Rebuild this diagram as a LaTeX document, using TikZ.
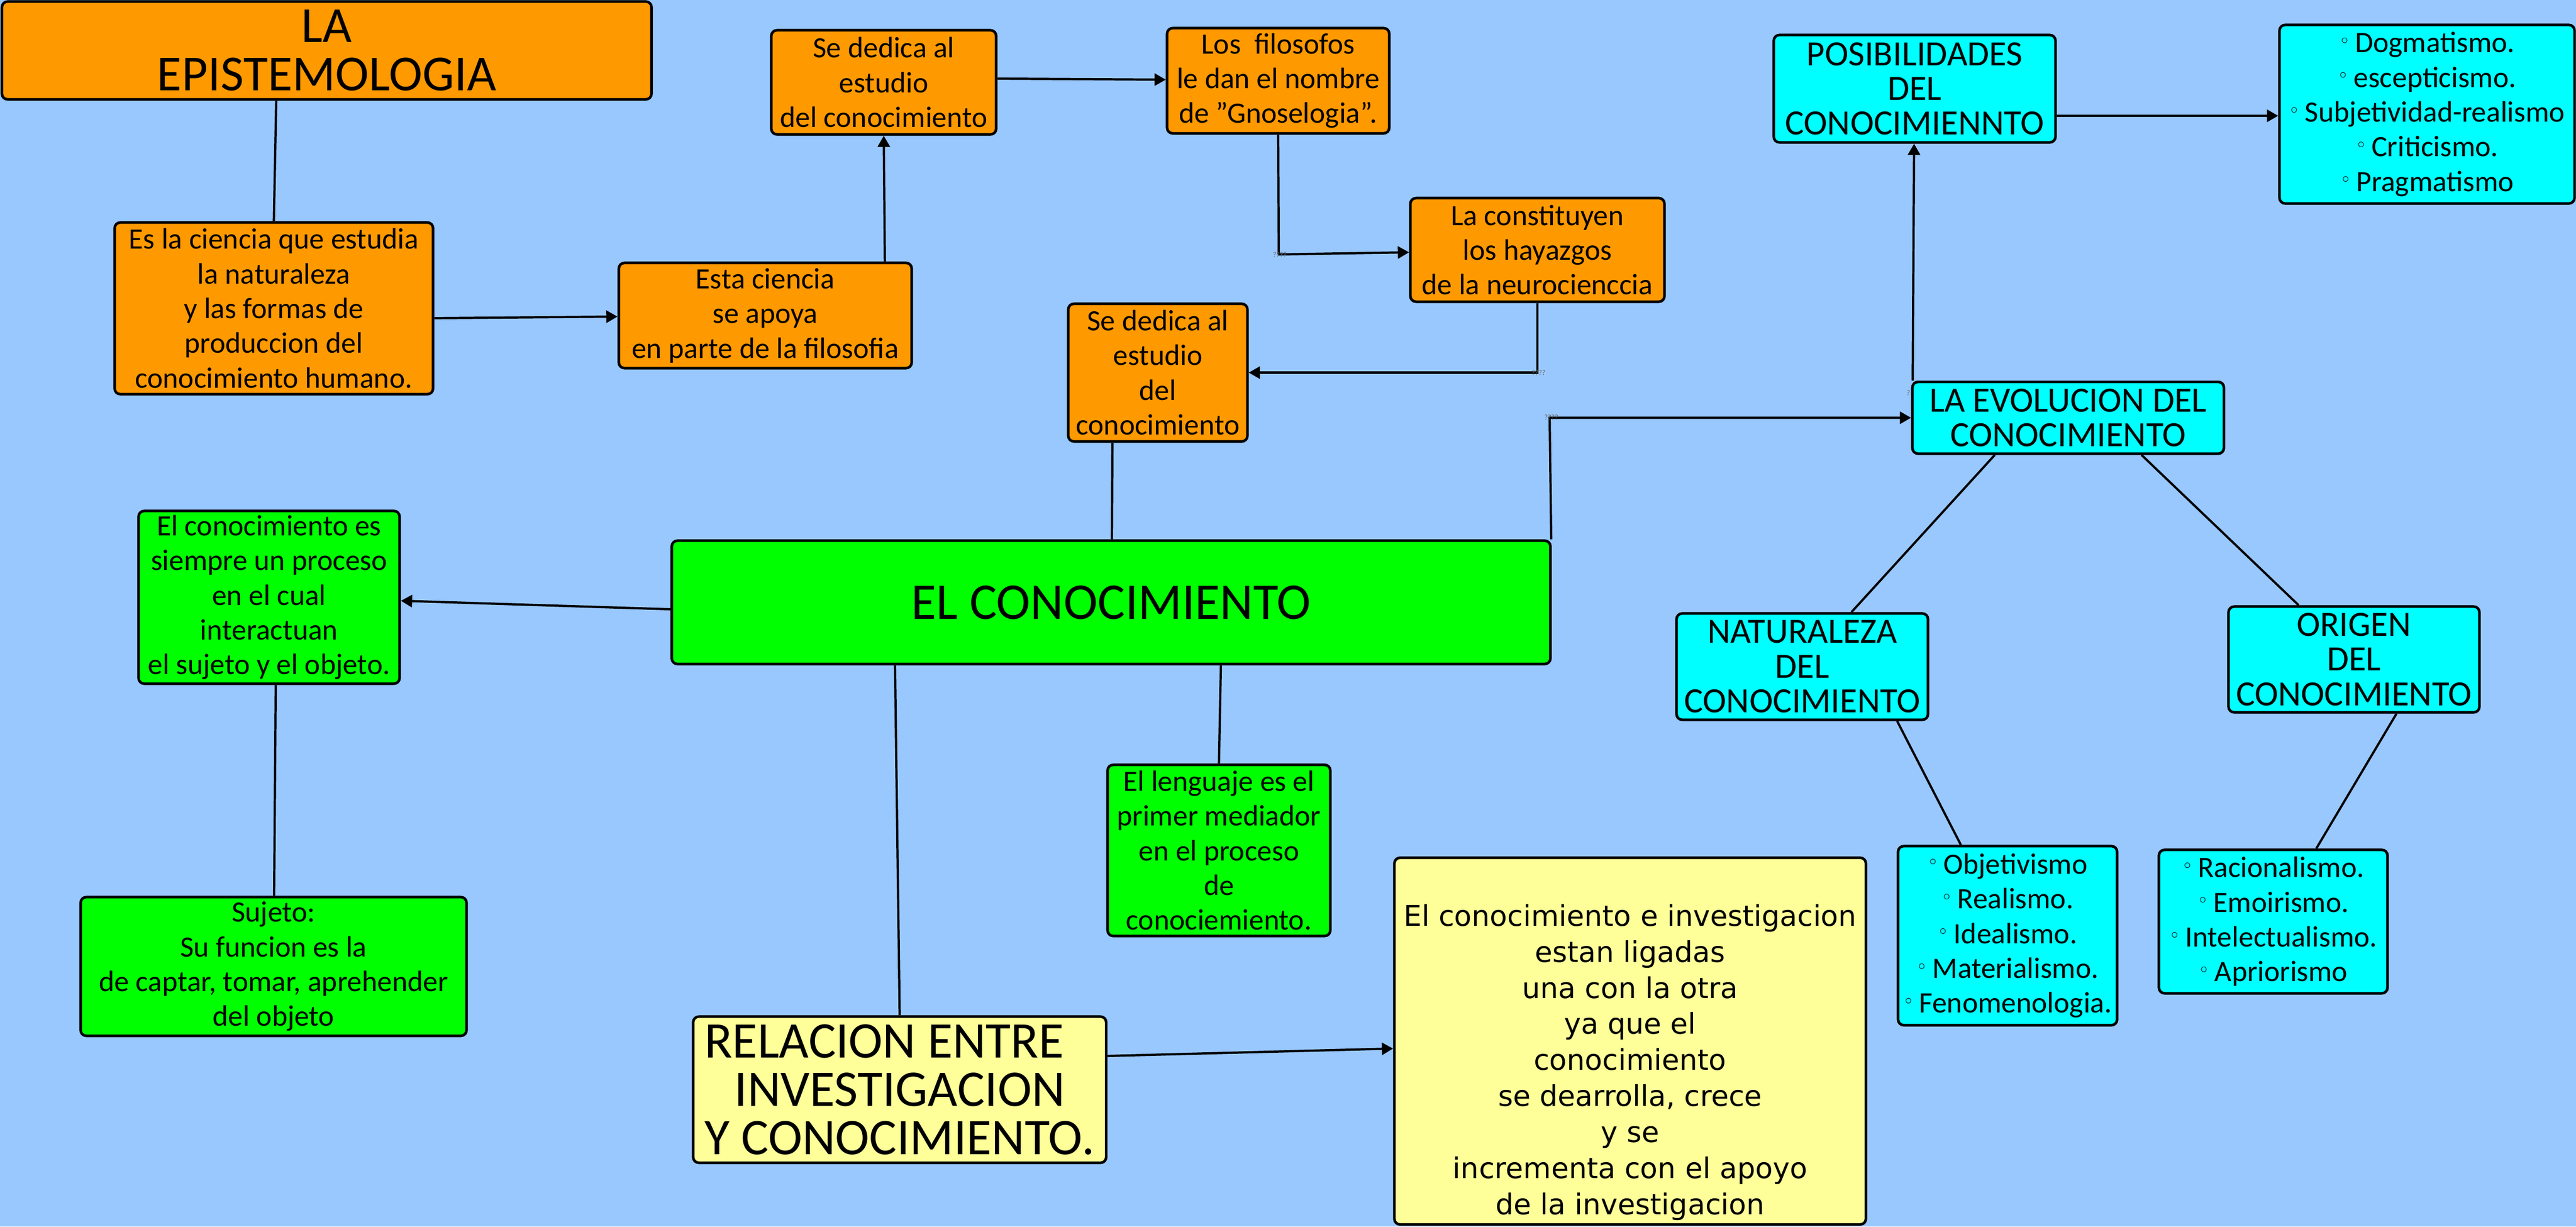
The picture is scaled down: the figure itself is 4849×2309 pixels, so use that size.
\documentclass[tikz,border=0pt]{standalone}
\usepackage{fontspec}
\setmainfont{Carlito}
\newfontfamily\dv{DejaVu Sans}
\usetikzlibrary{arrows.meta}
\definecolor{bg}{RGB}{153,200,255}
\definecolor{org}{RGB}{255,153,0}
\definecolor{grn}{RGB}{0,255,0}
\definecolor{cyn}{RGB}{0,255,255}
\definecolor{yel}{RGB}{255,255,153}
\newcommand{\myb}{\raisebox{0.35ex}{\dv\fontsize{10}{10}\selectfont ◦}\,}
\begin{document}
\begin{tikzpicture}[x=0.01cm,y=-0.01cm,
  box/.style={draw=black, line width=1.4pt, rounded corners=3pt, align=center, inner sep=0pt, text=black},
  sm/.style={font=\fontsize{15.8}{18.6}\selectfont},
  capf/.style={font=\fontsize{19}{18.6}\selectfont},
  bigf/.style={font=\fontsize{27.5}{26}\selectfont},
  con/.style={line width=1.2pt, draw=black},
  arr/.style={con, -{Triangle[length=6pt,width=6.5pt]}},
  qq/.style={font=\fontsize{4}{4}\selectfont, text=black!60, inner sep=0pt}]
\fill[bg] (0,0) rectangle (4849,2309);
\useasboundingbox (0,0) rectangle (4849,2309);
% orange
\node[box, fill=org, minimum width=12.22cm, minimum height=1.84cm, font=\fontsize{27}{26}\selectfont] (epi) at (615,95) {LA\\EPISTEMOLOGIA};
\node[box, fill=org, sm, minimum width=5.99cm, minimum height=3.23cm] (cien) at (515.5,580.5) {Es la ciencia que estudia\\la naturaleza\\y las formas de\\produccion del\\conocimiento humano.};
\node[box, fill=org, sm, minimum width=5.51cm, minimum height=1.98cm] (esta) at (1440.5,594) {Esta ciencia\\se apoya\\en parte de la filosofia};
\node[box, fill=org, sm, minimum width=4.23cm, minimum height=1.96cm] (sed1) at (1663.5,155) {Se dedica al\\estudio\\del conocimiento};
\node[box, fill=org, sm, minimum width=4.18cm, minimum height=1.98cm] (filo) at (2406,152) {Los\ \ filosofos\\le dan el nombre\\de \symbol{34}Gnoselogia\symbol{34}.};
\node[box, fill=org, sm, minimum width=4.78cm, minimum height=1.95cm] (cons) at (2894,470.5) {La constituyen\\los hayazgos\\de la neurocienccia};
\node[box, fill=org, sm, minimum width=3.37cm, minimum height=2.59cm] (sed2) at (2179.5,701.5) {Se dedica al\\estudio\\del\\conocimiento};
% green
\node[box, fill=grn, bigf, minimum width=16.53cm, minimum height=2.32cm] (main) at (2091.5,1134) {EL CONOCIMIENTO};
\node[box, fill=grn, sm, minimum width=4.91cm, minimum height=3.25cm] (proc) at (506.5,1124.5) {El conocimiento es\\siempre un proceso\\en el cual\\interactuan\\el sujeto y el objeto.};
\node[box, fill=grn, sm, minimum width=7.26cm, minimum height=2.61cm] (suj) at (515,1819.5) {Sujeto:\\Su funcion es la\\de captar, tomar, aprehender\\del objeto};
\node[box, fill=grn, sm, minimum width=4.19cm, minimum height=3.22cm] (leng) at (2294.5,1601) {El lenguaje es el\\primer mediador\\en el proceso\\de\\conociemiento.};
% yellow
\node[box, fill=yel, align=left, bigf, minimum width=7.77cm, minimum height=2.75cm] (rel) at (1693.5,2051.5) {RELACION ENTRE\\\hspace{16pt}INVESTIGACION\\Y CONOCIMIENTO.};
\node[box, fill=yel, font=\dv\fontsize{15.3}{19.3}\selectfont, minimum width=8.87cm, minimum height=6.90cm] (yel) at (3068.5,1960) {\mbox{}\\[15pt]El conocimiento e investigacion\\estan ligadas\\una con la otra\\ya que el\\conocimiento\\se dearrolla, crece\\y se\\incrementa con el apoyo\\de la investigacion};
% cyan
\node[box, fill=cyn, capf, minimum width=5.30cm, minimum height=2.02cm] (posib) at (3604,167) {POSIBILIDADES\\DEL\\CONOCIMIENNTO};
\node[box, fill=cyn, sm, minimum width=5.55cm, minimum height=3.36cm] (dogm) at (4568.5,215) {\myb Dogmatismo.\\\myb escepticismo.\\\myb Subjetividad-realismo\\\myb Criticismo.\\\myb Pragmatismo};
\node[box, fill=cyn, capf, minimum width=5.86cm, minimum height=1.35cm] (evol) at (3893,786.5) {LA EVOLUCION DEL\\CONOCIMIENTO};
\node[box, fill=cyn, capf, minimum width=4.73cm, minimum height=2.00cm] (nat) at (3392.5,1255) {NATURALEZA\\DEL\\CONOCIMIENTO};
\node[box, fill=cyn, capf, minimum width=4.72cm, minimum height=1.99cm] (ori) at (4431,1241.5) {ORIGEN\\DEL\\CONOCIMIENTO};
\node[box, fill=cyn, sm, minimum width=4.12cm, minimum height=3.37cm] (obj) at (3779,1761.5) {\myb Objetivismo\\\myb Realismo.\\\myb Idealismo.\\\myb Materialismo.\\\myb Fenomenologia.};
\node[box, fill=cyn, sm, minimum width=4.30cm, minimum height=2.70cm] (rac) at (4279,1735) {\myb Racionalismo.\\\myb Emoirismo.\\\myb Intelectualismo.\\\myb Apriorismo};
% connectors
\draw[con] ([xshift=-0.95cm]epi.south) -- (cien.north);
\draw[arr] ([yshift=-0.185cm]cien.east) -- ([yshift=-0.02cm]esta.west);
\draw[arr] ([xshift=2.25cm]esta.north) -- (sed1.south);
\draw[arr] ([yshift=0.07cm]sed1.east) -- ([yshift=0.02cm]filo.west);
\coordinate (c1) at (2407,479);
\draw[arr] (filo.south) -- (c1) -- ([yshift=-0.045cm]cons.west);
\coordinate (c2) at (2894,701.5);
\draw[arr] (cons.south) -- (c2) -- (sed2.east);
\draw[con] ([xshift=-0.855cm]sed2.south) -- ([xshift=0.015cm]main.north);
\coordinate (c3) at (2917,786.5);
\draw[arr] ([xshift=-0.01cm]main.north east) -- (c3) -- (evol.west);
\draw[arr] ([xshift=0.03cm]evol.north west) -- ([xshift=-0.01cm]posib.south);
\draw[arr] ([yshift=-0.51cm]posib.east) -- ([yshift=-0.03cm]dogm.west);
\draw[con] ([xshift=-1.38cm]evol.south) -- ([xshift=0.925cm]nat.north);
\draw[con] ([xshift=1.38cm]evol.south) -- ([xshift=-1.04cm]ori.north);
\draw[con] ([xshift=1.785cm]nat.south) -- ([xshift=-0.88cm]obj.north);
\draw[con] ([xshift=0.8cm]ori.south) -- ([xshift=0.81cm]rac.north);
\draw[arr] ([yshift=-0.13cm]main.west) -- ([yshift=-0.065cm]proc.east);
\draw[con] ([xshift=0.125cm]proc.south) -- ([xshift=0.01cm]suj.north);
\draw[con] ([xshift=-4.065cm]main.south) -- (rel.north);
\draw[con] ([xshift=2.065cm]main.south) -- (leng.north);
\draw[arr] ([yshift=0.635cm]rel.east) -- ([yshift=-0.14cm]yel.west);
% tiny marks
\node[qq] (q1) at (2409,480) {????};
\node[qq] (q2) at (2896,702) {????};
\node[qq] (q3) at (2920,786) {????};
\node[qq] (q4) at (3592,740) {?};
\end{tikzpicture}
\end{document}
